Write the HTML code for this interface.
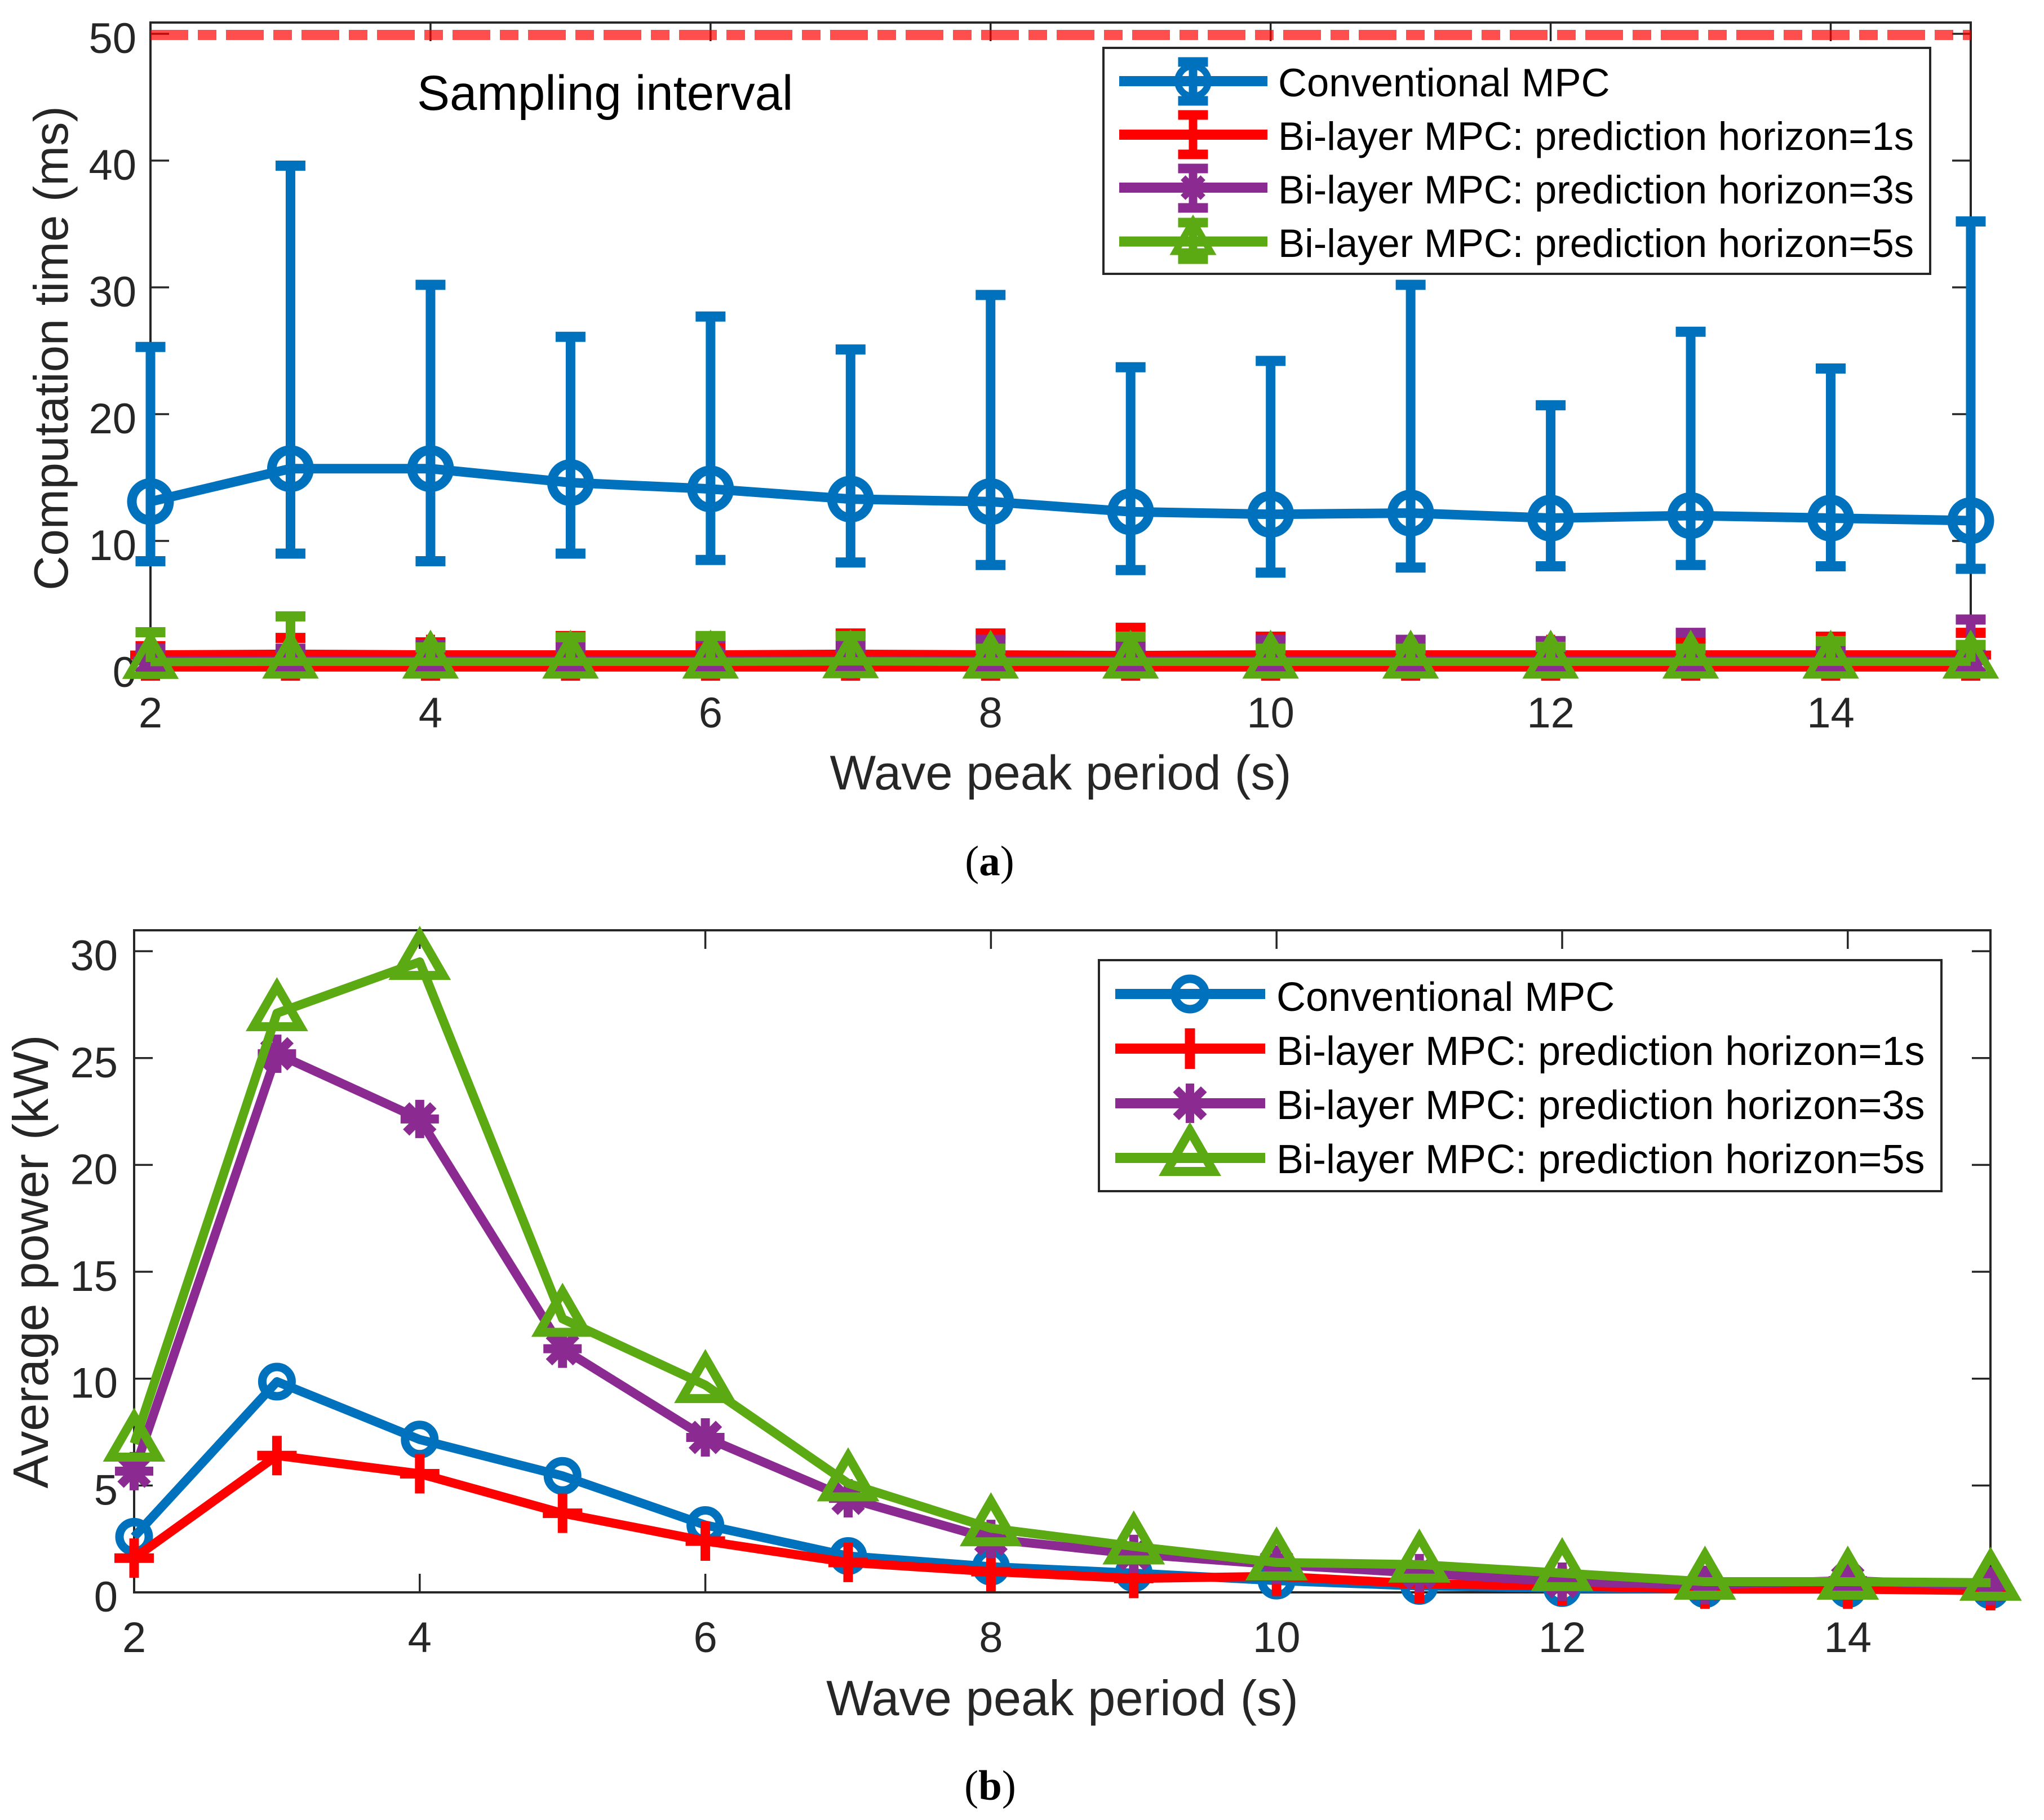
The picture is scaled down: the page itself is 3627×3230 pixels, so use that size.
<!DOCTYPE html>
<html lang="en">
<head>
<meta charset="utf-8">
<title>Computation time and average power vs wave peak period</title>
<style>
html,body{margin:0;padding:0;background:#fff}
svg{display:block}
text{font-family:"Liberation Sans",Arial,sans-serif}
.tl{fill:#262626}
.lg{fill:#000}
text.cap{font-family:"Liberation Serif",serif;fill:#000;font-size:75px}
</style>
</head>
<body>
<svg id="fig" xmlns="http://www.w3.org/2000/svg" width="3627" height="3230" viewBox="0 0 3627 3230">
  <rect x="0" y="0" width="3627" height="3230" fill="#fff"/>

  <g id="a-axes"></g>
  <g id="a-marks"></g>
  <text x="740" y="195" font-size="87" fill="#000">Sampling interval</text>
  <rect x="1973" y="85" width="1452" height="401" fill="#fff" stroke="#262626" stroke-width="4"/>
  <rect x="1958" y="85" width="1467" height="401" fill="#fff" stroke="#262626" stroke-width="4"/>
  <g id="a-legend"></g>
  <text class="lg" x="2268" y="171" font-size="70.6">Conventional MPC</text>
  <text class="lg" x="2268" y="266" font-size="70.6">Bi-layer MPC: prediction horizon=1s</text>
  <text class="lg" x="2268" y="361" font-size="70.6">Bi-layer MPC: prediction horizon=3s</text>
  <text class="lg" x="2268" y="456" font-size="70.6">Bi-layer MPC: prediction horizon=5s</text>
  <text class="tl" x="1882" y="1401" font-size="86.5" text-anchor="middle">Wave peak period (s)</text>
  <text class="tl" transform="translate(120 618) rotate(-90)" font-size="85" text-anchor="middle">Computation time (ms)</text>
  <text class="cap" x="1756" y="1553" text-anchor="middle">(<tspan font-weight="bold">a</tspan>)</text>

  <g id="b-axes"></g>
  <g id="b-marks"></g>
  <rect x="1950" y="1704" width="1495" height="410" fill="#fff" stroke="#262626" stroke-width="4"/>
  <g id="b-legend"></g>
  <text class="lg" x="2265" y="1794" font-size="72">Conventional MPC</text>
  <text class="lg" x="2265" y="1890" font-size="72">Bi-layer MPC: prediction horizon=1s</text>
  <text class="lg" x="2265" y="1986" font-size="72">Bi-layer MPC: prediction horizon=3s</text>
  <text class="lg" x="2265" y="2082" font-size="72">Bi-layer MPC: prediction horizon=5s</text>
  <text class="tl" x="1885" y="3044" font-size="88.5" text-anchor="middle">Wave peak period (s)</text>
  <text class="tl" transform="translate(85 2239) rotate(-90)" font-size="88.5" text-anchor="middle">Average power (kW)</text>
  <text class="cap" x="1757" y="3194" text-anchor="middle">(<tspan font-weight="bold">b</tspan>)</text>
</svg>

<script>
// ---------- shared categories ----------
const periods = [2,3,4,5,6,7,8,9,10,11,12,13,14,15];
const xTickValues = [2,4,6,8,10,12,14];

// ---------- chart (a): computation time (ms) ----------
const aYTicks = [0,10,20,30,40,50];
const samplingInterval = [50,50];
const aBlueMean  = [13.1,15.7,15.7,14.6,14.1,13.3,13.1,12.3,12.1,12.2,11.8,12.0,11.8,11.6];
const aBlueUpper = [25.3,39.6,30.2,26.1,27.7,25.1,29.4,23.7,24.2,30.2,20.7,26.5,23.6,35.2];
const aBlueLower = [8.4,9.0,8.4,9.0,8.5,8.3,8.1,7.7,7.5,7.9,8.0,8.1,8.0,7.8];
const aRedMean   = [1.0,1.05,1.0,1.0,1.0,1.05,1.0,0.95,1.0,1.0,1.0,1.0,1.0,1.0];
const aRedBase   = [0.05,0.05,0.05,0.05,0.05,0.05,0.05,0.05,0.05,0.05,0.05,0.05,0.05,0.05];
const aRedUpper  = [1.7,2.35,2.0,2.5,1.8,2.7,2.7,3.15,2.45,1.4,1.5,2.0,2.45,2.75];
const aRedLower  = [-0.67,-0.67,-0.67,-0.67,-0.67,-0.67,-0.67,-0.67,-0.67,-0.67,-0.67,-0.67,-0.67,-0.67];
const aPurpleMean  = [0.55,0.55,0.55,0.55,0.55,0.55,0.55,0.55,0.55,0.55,0.55,0.55,0.55,0.55];
const aPurpleUpper = [1.5,1.5,1.8,1.7,2.35,1.8,2.2,1.7,2.2,2.2,2.1,2.75,1.5,3.8];
const aGreenMean  = [0.45,0.47,0.47,0.47,0.47,0.5,0.47,0.47,0.47,0.47,0.47,0.47,0.47,0.47];
const aGreenUpper = [2.8,4.05,1.6,2.4,2.5,2.5,1.5,2.45,1.5,1.5,1.65,1.5,2.1,1.8];

// ---------- chart (b): average power (kW) ----------
const bYTicks = [0,5,10,15,20,25,30];
const bBlue   = [2.6,9.86,7.15,5.45,3.15,1.7,1.2,0.9,0.55,0.3,0.2,0.15,0.15,0.1];
const bRed    = [1.6,6.4,5.55,3.7,2.4,1.4,0.97,0.65,0.75,0.4,0.3,0.15,0.15,0.08];
const bPurple = [5.67,25.2,22.15,11.4,7.25,4.4,2.5,1.8,1.3,0.9,0.5,0.35,0.55,0.3];
const bGreen  = [6.96,27.1,29.5,12.8,9.7,5.1,3.0,2.15,1.4,1.3,0.9,0.5,0.5,0.45];

const BLUE='#0072bd', RED='#ff0000', PURPLE='#8b2b92', GREEN='#5ba913', INK='#262626';
const NS='http://www.w3.org/2000/svg';

// axis functions
const xA = v => 267 + (v-2)*248.46;
const yA = v => 1185 - v*22.5;
const xB = v => 238 + (v-2)*253.4;
const yB = v => 2826 - v*37.93;

function mk(tag,attrs,parent){
  const el=document.createElementNS(NS,tag);
  for(const k in attrs) el.setAttribute(k,attrs[k]);
  parent.appendChild(el);
  return el;
}
function seg(parent,x1,y1,x2,y2,color,w){
  return mk('line',{x1:x1,y1:y1,x2:x2,y2:y2,stroke:color,'stroke-width':w},parent);
}
function poly(parent,xs,ys,color,w){
  const pts=xs.map((x,i)=>x+','+ys[i]).join(' ');
  return mk('polyline',{points:pts,fill:'none',stroke:color,'stroke-width':w,'stroke-linejoin':'round'},parent);
}
function marker(parent,kind,cx,cy,R,w,color){
  if(kind==='circle'){
    return mk('circle',{cx:cx,cy:cy,r:R,fill:'none',stroke:color,'stroke-width':w},parent);
  }
  if(kind==='plus'){
    return mk('path',{d:`M${cx-R} ${cy}H${cx+R}M${cx} ${cy-R}V${cy+R}`,fill:'none',stroke:color,'stroke-width':w},parent);
  }
  if(kind==='star'){
    const d=R*0.707;
    return mk('path',{d:`M${cx-R} ${cy}H${cx+R}M${cx} ${cy-R}V${cy+R}M${cx-d} ${cy-d}L${cx+d} ${cy+d}M${cx-d} ${cy+d}L${cx+d} ${cy-d}`,fill:'none',stroke:color,'stroke-width':w},parent);
  }
  const hw=R*0.866, lo=R*0.5;
  return mk('path',{d:`M${cx} ${cy-R}L${cx+hw} ${cy+lo}L${cx-hw} ${cy+lo}Z`,fill:'none',stroke:color,'stroke-width':w,'stroke-linejoin':'miter'},parent);
}
function label(parent,x,y,str,size,anchor){
  const t=mk('text',{x:x,y:y,'font-size':size,'text-anchor':anchor,class:'tl'},parent);
  t.textContent=str;
  return t;
}

function drawAxes(group,prefix,box,xFn,yFn,yTicks,fs,xBase,yRight,yOff){
  const frame=mk('rect',{x:box.l,y:box.t,width:box.r-box.l,height:box.b-box.t,fill:'none',stroke:INK,'stroke-width':4},group);
  
  
  xTickValues.forEach(v=>{
    const x=xFn(v);
    const tb=seg(group,x,box.b,x,box.b-33,INK,3.5);
    
    
    const tt=seg(group,x,box.t,x,box.t+33,INK,3.5);
    
    
    const lb=label(group,x,xBase,String(v),fs,'middle');
    
    
  });
  yTicks.forEach(v=>{
    const y=yFn(v);
    const tl=seg(group,box.l,y,box.l+33,y,INK,3.5);
    
    
    const tr=seg(group,box.r,y,box.r-33,y,INK,3.5);
    
    
    const lb=label(group,yRight,y+yOff,String(v),fs,'end');
    
    
  });
}

// ---------- chart (a) ----------
const aAxes=document.getElementById('a-axes');
const aMarks=document.getElementById('a-marks');
drawAxes(aAxes,'chart-a',{l:267,r:3497,t:40,b:1185},xA,yA,aYTicks,76,1291,242,34);

const limit=seg(aMarks,xA(2),yA(samplingInterval[0])+2,xA(15),yA(samplingInterval[1])+2,'#ff0000',18);
limit.setAttribute('stroke-dasharray','67 17 33 17');
limit.setAttribute('opacity','0.69');



function errorBars(parent,name,color,upper,lower,means){
  periods.forEach((p,i)=>{
    const x=xA(p);
    const lo=lower?lower[i]:means[i];
    const stem=seg(parent,x,yA(upper[i]),x,yA(lo),color,17);
    
    
    const capU=seg(parent,x-26.5,yA(upper[i]),x+26.5,yA(upper[i]),color,18);
    
    
    if(lower){
      const capL=seg(parent,x-26.5,yA(lo),x+26.5,yA(lo),color,18);
      
      
    }
  });
}
const aX=periods.map(xA);

errorBars(aMarks,'conventional',BLUE,aBlueUpper,aBlueLower,aBlueMean);
const aBlueLine=poly(aMarks,aX,aBlueMean.map(yA),BLUE,17);


periods.forEach((p,i)=>{
  const m=marker(aMarks,'circle',xA(p),yA(aBlueMean[i]),33,17,BLUE);
  
  
});

errorBars(aMarks,'horizon-1s',RED,aRedUpper,null,aRedMean);
periods.forEach((p,i)=>{
  const tip=seg(aMarks,xA(p)-17,yA(aRedLower[i]),xA(p)+17,yA(aRedLower[i]),RED,16);
  
  
});
const aRedBaseLine=poly(aMarks,aX,aRedBase.map(yA),RED,16);


const aRedLine=poly(aMarks,aX,aRedMean.map(yA),RED,17);


periods.forEach((p,i)=>{
  const m=marker(aMarks,'plus',xA(p),yA(aRedMean[i]),36,16,RED);
  
  
});

errorBars(aMarks,'horizon-3s',PURPLE,aPurpleUpper,null,aPurpleMean);
const aPurpleLine=poly(aMarks,aX,aPurpleMean.map(yA),PURPLE,16);


periods.forEach((p,i)=>{
  const m=marker(aMarks,'star',xA(p),yA(aPurpleMean[i]),32,16,PURPLE);
  
  
});

errorBars(aMarks,'horizon-5s',GREEN,aGreenUpper,null,aGreenMean);
const aGreenLine=poly(aMarks,aX,aGreenMean.map(yA),GREEN,15);


periods.forEach((p,i)=>{
  const m=marker(aMarks,'tri',xA(p),yA(aGreenMean[i])+1,45,13,GREEN);
  
  
});

// chart (a) legend keys
const aLegend=document.getElementById('a-legend');
function aKey(name,color,y,top,bottom,kind,R,w){
  const stem=seg(aLegend,2117,top,2117,bottom,color,15);
  
  
  const c1=seg(aLegend,2090.5,top,2143.5,top,color,17);
  
  
  const c2=seg(aLegend,2090.5,bottom,2143.5,bottom,color,17);
  
  
  const ln=seg(aLegend,1986,y,2249,y,color,18);
  
  
  const mk1=marker(aLegend,kind,2117,y,R,w,color);
  
  
}
aKey('conventional',BLUE,144,110,179,'circle',27,12);
aKey('horizon-1s',RED,239,204,274,'plus',28,12);
aKey('horizon-3s',PURPLE,333,299,369,'star',25,12);
aKey('horizon-5s',GREEN,428.6,395,460,'tri',36,12);

// ---------- chart (b) ----------
const bAxes=document.getElementById('b-axes');
const bMarks=document.getElementById('b-marks');
drawAxes(bAxes,'chart-b',{l:238,r:3532,t:1651,b:2826},xB,yB,bYTicks,76,2932,209,34);
const bX=periods.map(xB);

const bBlueLine=poly(bMarks,bX,bBlue.map(yB),BLUE,16);


periods.forEach((p,i)=>{
  const m=marker(bMarks,'circle',xB(p),yB(bBlue[i]),26,15,BLUE);
  
  
});

const bRedLine=poly(bMarks,bX,bRed.map(yB),RED,16);


periods.forEach((p,i)=>{
  const m=marker(bMarks,'plus',xB(p),yB(bRed[i]),35,17,RED);
  
  
});

const bPurpleLine=poly(bMarks,bX,bPurple.map(yB),PURPLE,16);


periods.forEach((p,i)=>{
  const m=marker(bMarks,'star',xB(p),yB(bPurple[i]),34,16,PURPLE);
  
  
});

const bGreenLine=poly(bMarks,bX,bGreen.map(yB),GREEN,16);


periods.forEach((p,i)=>{
  const m=marker(bMarks,'tri',xB(p),yB(bGreen[i]),48,16,GREEN);
  
  
});

// chart (b) legend keys
const bLegend=document.getElementById('b-legend');
function bKey(name,color,y,kind,R,w){
  const ln=seg(bLegend,1979,y,2245,y,color,18);
  
  
  const mk2=marker(bLegend,kind,2111.5,y,R,w,color);
  
  
}
bKey('conventional',BLUE,1764,'circle',27,15);
bKey('horizon-1s',RED,1861,'plus',36,18);
bKey('horizon-3s',PURPLE,1958,'star',35,15);
bKey('horizon-5s',GREEN,2055,'tri',48,16);
</script>
</body>
</html>
